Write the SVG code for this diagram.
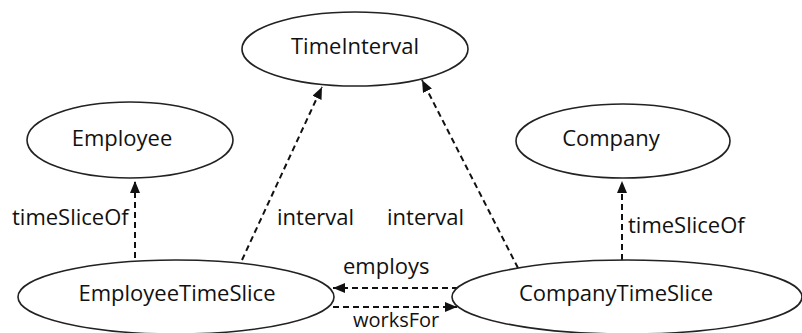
<svg xmlns="http://www.w3.org/2000/svg" width="802" height="333" viewBox="0 0 802 333">
<defs>
<marker id="ah" viewBox="0 0 12 10" refX="12" refY="5" markerWidth="12" markerHeight="10" markerUnits="userSpaceOnUse" orient="auto">
<path d="M0,0 L12,5 L0,10 z" fill="#111"/>
</marker>
<style>
.node ellipse{fill:#fff;stroke:#222;stroke-width:1.6}
.node text{font-family:"Open Sans","Liberation Sans",sans-serif;font-size:22px;fill:#111;text-anchor:middle}
.edge{fill:none;stroke:#111;stroke-width:2;stroke-dasharray:6,4;marker-end:url(#ah)}
.lbl{font-family:"Open Sans","Liberation Sans",sans-serif;font-size:22px;fill:#111}
</style>
</defs>
<rect width="802" height="333" fill="#fff"/>
<g id="connectors">
<line class="edge" x1="135" y1="258" x2="135" y2="181"/>
<line class="edge" x1="242" y1="260" x2="322" y2="87"/>
<line class="edge" x1="518" y1="268" x2="422" y2="80"/>
<line class="edge" x1="622" y1="260" x2="622" y2="181"/>
<line class="edge" x1="458" y1="288" x2="333" y2="288"/>
<line class="edge" x1="333" y1="307" x2="457" y2="307"/>
<text class="lbl" x="12" y="225">timeSliceOf</text>
<text class="lbl" x="277" y="225">interval</text>
<text class="lbl" x="387" y="225">interval</text>
<text class="lbl" x="628" y="233">timeSliceOf</text>
<text class="lbl" x="343" y="274">employs</text>
<text class="lbl" x="353" y="327" style="font-size:20px">worksFor</text>
</g>
<g id="TimeInterval" class="node"><ellipse cx="355" cy="49" rx="113" ry="37"/><text x="355" y="54">TimeInterval</text></g>
<g id="Employee" class="node"><ellipse cx="130" cy="140" rx="103" ry="38"/><text x="122" y="146">Employee</text></g>
<g id="Company" class="node"><ellipse cx="623" cy="141" rx="107" ry="37"/><text x="611" y="146">Company</text></g>
<g id="EmployeeTimeSlice" class="node"><ellipse cx="176" cy="297" rx="158" ry="37"/><text x="177" y="301">EmployeeTimeSlice</text></g>
<g id="CompanyTimeSlice" class="node"><ellipse cx="627" cy="297" rx="175" ry="37"/><text x="616" y="301">CompanyTimeSlice</text></g>
</svg>
